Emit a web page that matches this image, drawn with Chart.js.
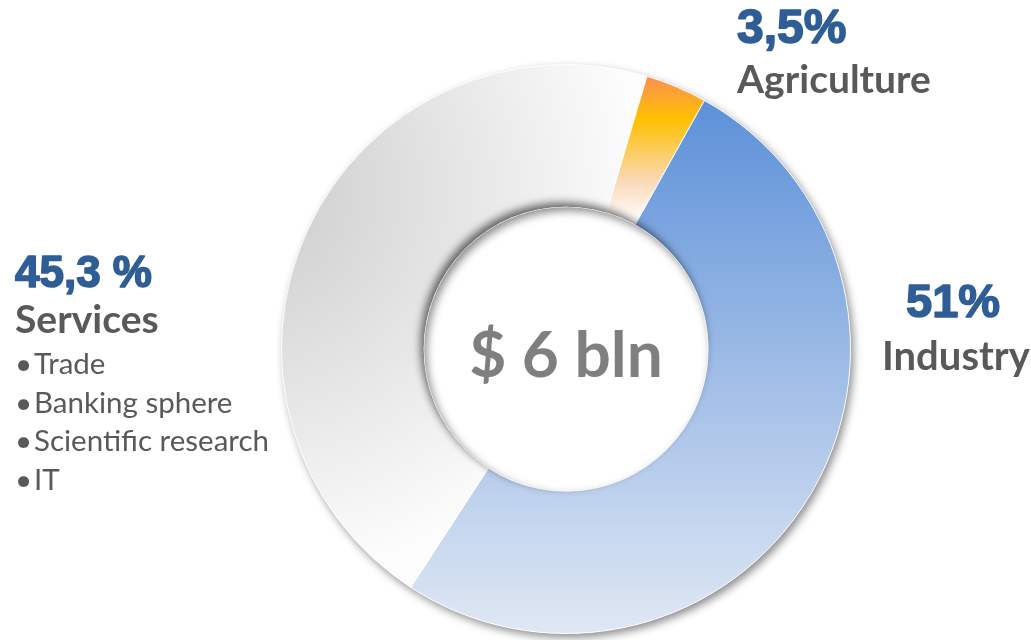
<!DOCTYPE html>
<html>
<head>
<meta charset="utf-8">
<script src="https://cdn.jsdelivr.net/npm/chart.js@4.4.1/dist/chart.umd.min.js"></script>
<style>
  html, body { margin: 0; padding: 0; background: #fff; }
  #wrap { width: 1031px; height: 640px; }
</style>
</head>
<body>
<div id="wrap"><canvas id="sectorChart" width="1031" height="640"></canvas></div>
<script>
    // Дані
    const sectors = ['Agriculture', 'Industry', 'Services'];
    const shares = [3.5, 51, 45.3];
    const shareLabels = ['3,5%', '51%', '45,3 %'];
    const servicesItems = ['Trade', 'Banking sphere', 'Scientific research', 'IT'];
    const totalLabel = '$ 6 bln';

    const BLUE = '#2F5E96';
    const GREY = '#595959';

    function ringGeom(chart) {
        const a = chart.chartArea;
        const cx = (a.left + a.right) / 2;
        const cy = (a.top + a.bottom) / 2;
        const r = Math.min(a.right - a.left, a.bottom - a.top) / 2;
        return { cx, cy, r };
    }

    // Градієнти сегментів
    function sliceFill(context) {
        const chart = context.chart;
        if (!chart.chartArea) return '#ccc';
        const { cx, cy, r } = ringGeom(chart);
        const c = chart.ctx;
        let g;
        if (context.dataIndex === 0) {
            g = c.createLinearGradient(0, cy - r, 0, cy - r * 0.45);
            g.addColorStop(0, '#F9826E');
            g.addColorStop(0.35, '#FFC000');
            g.addColorStop(0.75, '#FAD9B8');
            g.addColorStop(1, '#FFFFFF');
        } else if (context.dataIndex === 1) {
            g = c.createLinearGradient(0, cy - r * 0.9, 0, cy + r);
            g.addColorStop(0, '#5A8FD8');
            g.addColorStop(1, '#E0E8F4');
        } else {
            const gx = cx - r * 1.1, gy = cy - r * 0.55;
            g = c.createRadialGradient(gx, gy, 0, gx, gy, r * 1.35);
            g.addColorStop(0, '#D0D0D0');
            g.addColorStop(0.2, '#D5D5D5');
            g.addColorStop(1, '#FCFCFC');
        }
        return g;
    }

    // Тіні кільця
    const ringShadow = {
        id: 'ringShadow',
        beforeDatasetsDraw(chart) {
            const arc = chart.getDatasetMeta(0).data[0];
            if (!arc) return;
            const p = arc.getProps(['x', 'y', 'outerRadius', 'innerRadius'], true);
            const c = chart.ctx;
            c.save();
            c.beginPath();
            c.arc(p.x, p.y, p.outerRadius, 0, Math.PI * 2);
            c.arc(p.x, p.y, p.innerRadius, 0, Math.PI * 2, true);
            c.shadowColor = 'rgba(0,0,0,0.45)';
            c.shadowBlur = 9;
            c.shadowOffsetX = 3;
            c.shadowOffsetY = 4;
            c.fillStyle = '#fff';
            c.fill();
            c.restore();
        },
        afterDatasetsDraw(chart) {
            const arc = chart.getDatasetMeta(0).data[0];
            if (!arc) return;
            const p = arc.getProps(['x', 'y', 'outerRadius', 'innerRadius'], true);
            const c = chart.ctx;
            c.save();
            c.beginPath();
            c.arc(p.x, p.y, p.outerRadius, 0, Math.PI * 2);
            c.arc(p.x, p.y, p.innerRadius, 0, Math.PI * 2, true);
            c.clip();
            c.beginPath();
            c.arc(p.x, p.y, p.innerRadius, 0, Math.PI * 2);
            c.shadowColor = 'rgba(0,0,0,0.6)';
            c.shadowBlur = 9;
            c.shadowOffsetX = -3;
            c.shadowOffsetY = -4;
            c.fillStyle = '#fff';
            c.fill();
            c.restore();
        }
    };

    // Підписи
    const labelsPlugin = {
        id: 'labels',
        afterDraw(chart) {
            const c = chart.ctx;
            const { cx, cy } = ringGeom(chart);
            c.save();
            c.textBaseline = 'alphabetic';

            function pct(text, x, y, size) {
                c.font = 'bold ' + size + 'px "Liberation Sans", Arial, sans-serif';
                c.fillStyle = BLUE;
                c.strokeStyle = BLUE;
                c.lineWidth = 1.6;
                c.lineJoin = 'round';
                c.textAlign = 'left';
                c.fillText(text, x, y);
                c.strokeText(text, x, y);
            }
            function name(text, x, y, size) {
                c.font = 'bold ' + size + 'px Lato, sans-serif';
                c.fillStyle = GREY;
                c.textAlign = 'left';
                c.fillText(text, x, y);
            }

            // Agriculture
            pct(shareLabels[0], 737, 43, 48);
            name(sectors[0], 737, 93, 39);
            // Industry
            pct(shareLabels[1], 906, 317, 47);
            name(sectors[1], 882, 370, 40);
            // Services
            pct(shareLabels[2], 15, 287, 44);
            name(sectors[2], 15, 333, 39);
            c.font = '29.5px Lato, sans-serif';
            c.fillStyle = GREY;
            servicesItems.forEach((t, i) => {
                const y = 374 + i * 38.5;
                c.fillText('\u2022', 15, y);
                c.fillText(t, 34, y);
            });

            // Центр
            c.font = 'bold 64px Lato, sans-serif';
            c.fillStyle = '#7F7F7F';
            c.textAlign = 'center';
            c.fillText(totalLabel, cx, cy + 28);
            c.restore();
        }
    };

    const sectorConfig = {
        type: 'doughnut',
        data: {
            labels: sectors,
            datasets: [{
                data: shares,
                backgroundColor: sliceFill,
                borderColor: 'rgba(255,255,255,0.9)',
                borderWidth: 1
            }]
        },
        options: {
            responsive: false,
            animation: false,
            rotation: 16.5,
            cutout: '50%',
            layout: {
                padding: { left: 281, right: 180, top: 64, bottom: 6 }
            },
            plugins: {
                legend: { display: false },
                tooltip: { enabled: false }
            }
        },
        plugins: [ringShadow, labelsPlugin]
    };

    const ctx = document.getElementById('sectorChart').getContext('2d');
    new Chart(ctx, sectorConfig);
</script>
</body>
</html>
